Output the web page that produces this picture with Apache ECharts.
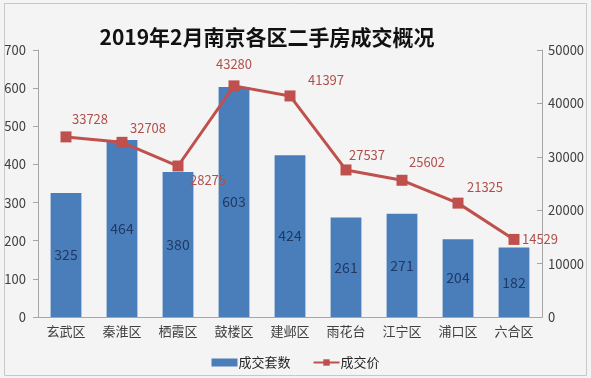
<!DOCTYPE html>
<html><head><meta charset="utf-8">
<script src="https://cdn.jsdelivr.net/npm/echarts@6/dist/echarts.min.js"></script>
<style>html,body{margin:0;padding:0;background:#fff}#c{width:591px;height:378px}</style>
</head><body><div id="c"></div>
<script>
const categories = ['玄武区','秦淮区','栖霞区','鼓楼区','建邺区','雨花台','江宁区','浦口区','六合区'];
const dealCounts = [325,464,380,603,424,261,271,204,182];
const dealPrices = [33728,32708,28275,43280,41397,27537,25602,21325,14529];
const leftTicks = {min:0,max:700,interval:100};
const rightTicks = {min:0,max:50000,interval:10000};
const labelOffsets = [[24,-18],[26,-14],[30,14],[0,-22],[36,-16],[21,-15],[25,-18],[27,-16],[26,0]];

const chart = echarts.init(document.getElementById('c'), null, {renderer:'canvas'});
const font = '"Noto Sans CJK SC", "Microsoft YaHei", sans-serif';
chart.setOption({
  backgroundColor: '#f4f4f4',
  animation: false,
  textStyle: {fontFamily: font},
  graphic: [{type:'rect', left:2, top:1, shape:{width:582, height:372},
    style:{fill:'none', stroke:'#c8c8c8', lineWidth:1}, silent:true, z:-1}],
  title: {
    text: '2019年2月南京各区二手房成交概况',
    left: 262, top: 22, textAlign: 'center',
    textStyle: {fontSize: 21, fontWeight: 'bold', color: '#111', fontFamily: font}
  },
  legend: {
    bottom: 4, left: 'center', itemGap: 22,
    itemWidth: 26, itemHeight: 8,
    textStyle: {fontSize: 13, color: '#262626', padding:[0,0,0,-4]},
    data: [{name:'成交套数', icon:'rect'}, {name:'成交价'}]
  },
  grid: {left: 38, right: 49, top: 50, bottom: 61, containLabel: false},
  xAxis: {
    type: 'category', data: categories,
    axisLine: {lineStyle: {color: '#a6a6a6'}},
    axisTick: {show: false},
    axisLabel: {color: '#404040', fontSize: 13, margin: 8}
  },
  yAxis: [
    {type:'value', min: leftTicks.min, max: leftTicks.max, interval: leftTicks.interval,
     axisLine:{show:true, lineStyle:{color:'#a6a6a6'}},
     axisTick:{show:true, length:5, lineStyle:{color:'#a6a6a6'}},
     splitLine:{show:false},
     axisLabel:{color:'#404040', fontSize:13, margin:12}},
    {type:'value', min: rightTicks.min, max: rightTicks.max, interval: rightTicks.interval,
     position:'right',
     axisLine:{show:true, lineStyle:{color:'#a6a6a6'}},
     axisTick:{show:true, inside:true, length:5, lineStyle:{color:'#a6a6a6'}},
     splitLine:{show:false},
     axisLabel:{color:'#404040', fontSize:13, margin:6, formatter: v => String(v)}}
  ],
  series: [
    {name:'成交套数', type:'bar', data: dealCounts, barWidth:'55%',
     itemStyle:{color:'#4a7ebb'},
     label:{show:true, position:'inside', color:'#1f3864', fontSize:14}},
    {name:'成交价', type:'line', yAxisIndex:1,
     data: dealPrices.map((v,i)=>({value:v, label:{offset:labelOffsets[i]}})),
     symbol:'rect', symbolSize:11,
     lineStyle:{color:'#c0504d', width:3},
     itemStyle:{color:'#c0504d'},
     label:{show:true, position:'inside', color:'#b0504c', fontSize:13}}
  ]
});
</script></body></html>
